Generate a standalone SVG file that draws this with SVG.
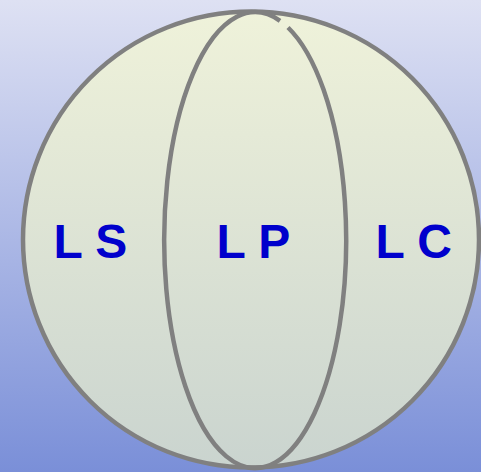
<svg xmlns="http://www.w3.org/2000/svg" width="481" height="472" viewBox="0 0 481 472">
<defs>
<linearGradient id="bg" x1="0" y1="0" x2="0" y2="1">
<stop offset="0" stop-color="#dee1f3"/>
<stop offset="1" stop-color="#7a8fd8"/>
</linearGradient>
<linearGradient id="ball" x1="0" y1="0" x2="0" y2="1">
<stop offset="0" stop-color="#eff2da"/>
<stop offset="1" stop-color="#cad4cf"/>
</linearGradient>
<style>
.ln{fill:none;stroke:#808080;stroke-width:4.5}
.lb{font-family:"Liberation Sans",Arial,sans-serif;font-weight:bold;font-size:48px;fill:#0000cc}
</style>
</defs>
<rect width="481" height="472" fill="url(#bg)"/>
<g id="sphere">
<circle cx="251" cy="239.5" r="228" fill="url(#ball)" stroke="#808080" stroke-width="4.5"/>
</g>
<g id="connectors">
<path class="ln" d="M 288 27.5 A 91 228 0 1 1 280 20.8"/>
</g>
<g id="LS"><text class="lb" x="53.5" y="258">L S</text></g>
<g id="LP"><text class="lb" x="216.5" y="258">L P</text></g>
<g id="LC"><text class="lb" x="375.5" y="258">L C</text></g>
</svg>
